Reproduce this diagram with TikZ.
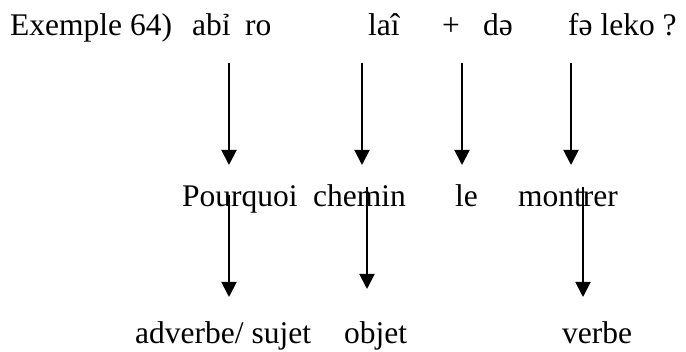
\documentclass[tikz,border=0pt]{standalone}
\usepackage{fontspec}
\setmainfont{Liberation Serif}
\usetikzlibrary{arrows.meta}
\begin{document}
\begin{tikzpicture}[x=1pt,y=-1pt,
  word/.style={anchor=base west,inner sep=0pt,font=\fontsize{31.5}{36}\selectfont},
  arr/.style={line width=1.9pt,-{Triangle[width=15pt,length=15pt]}}]
\useasboundingbox (0,0) rectangle (686,352);
% top row
\node[word] (ex) at (10,36) {Exemple 64)};
\node[word] (abi) at (192,36) {abỉ};
\node[word] (ro) at (245,36) {ro};
\node[word] (lai) at (368,36) {laî};
\node[word] (plus) at (442,36) {+};
\node[word] (de) at (483,36) {dǝ};
\node[word] (fe) at (568,36) {fǝ leko ?};
% middle row
\node[word] (pourquoi) at (182,207) {Pourquoi};
\node[word] (chemin) at (313,207) {chemin};
\node[word] (le) at (455,207) {le};
\node[word] (montrer) at (518,207) {montrer};
% bottom row
\node[word] (adv) at (135,344) {adverbe/ sujet};
\node[word] (objet) at (344,344) {objet};
\node[word] (verbe) at (562,344) {verbe};
% arrow end points
\coordinate (a1s) at (229,63);  \coordinate (a1e) at (229,165);
\coordinate (a2s) at (362,63);  \coordinate (a2e) at (362,165);
\coordinate (a3s) at (462,63);  \coordinate (a3e) at (462,165);
\coordinate (a4s) at (571,63);  \coordinate (a4e) at (571,165);
\coordinate (b1s) at (229,195); \coordinate (b1e) at (229,297);
\coordinate (b2s) at (367,187); \coordinate (b2e) at (367,289);
\coordinate (b3s) at (583,187); \coordinate (b3e) at (583,297);
\draw[arr] (a1s) -- (a1e);
\draw[arr] (a2s) -- (a2e);
\draw[arr] (a3s) -- (a3e);
\draw[arr] (a4s) -- (a4e);
\draw[arr] (b1s) -- (b1e);
\draw[arr] (b2s) -- (b2e);
\draw[arr] (b3s) -- (b3e);
\end{tikzpicture}
\end{document}
